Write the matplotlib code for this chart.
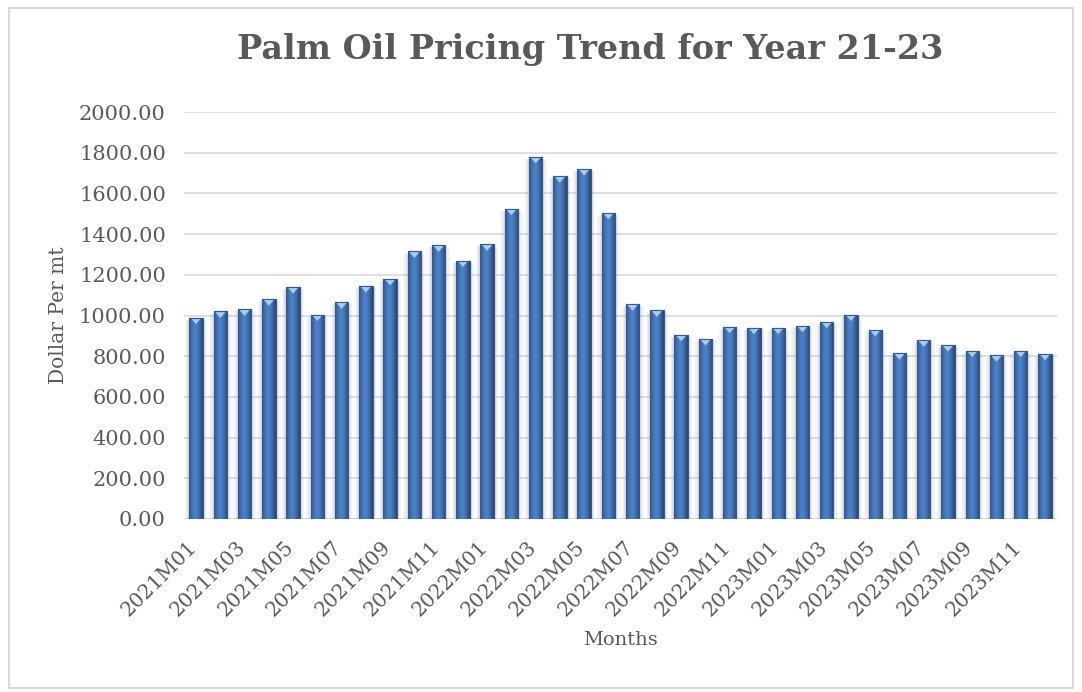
import numpy as np
import matplotlib.pyplot as plt
import matplotlib.transforms as mtrans
from matplotlib.patches import Rectangle, Polygon

months = [f"{y}M{m:02d}" for y in (2021, 2022, 2023) for m in range(1, 13)]
prices = [990, 1020, 1030, 1080, 1140, 1005, 1065, 1145, 1180, 1315, 1345, 1270,
          1350, 1525, 1780, 1685, 1720, 1505, 1055, 1025, 905, 885, 945, 940,
          940, 950, 970, 1005, 930, 815, 878, 855, 828, 805, 828, 812]
yticks = np.arange(0, 2001, 200)

plt.rcParams['font.family'] = ['DejaVu Serif']
text_col = '#595959'

fig = plt.figure(figsize=(10.82, 6.92), dpi=100)
ax = fig.add_axes([0.170, 0.250, 0.807, 0.588])

x = np.arange(len(months))
bars = ax.bar(x, prices, width=0.55, color='#4677BE', edgecolor='#345A94',
              linewidth=0.8, zorder=3)

# horizontal gradient to mimic the bevelled bars
grad = np.linspace(0, 1, 64)
shade = 1 - 0.4 * (np.abs(grad - 0.45) * 2) ** 1.6
img = np.zeros((1, 64, 3))
base = np.array([0x4c, 0x80, 0xc8]) / 255
for i in range(3):
    img[0, :, i] = np.clip(base[i] * shade, 0, 1)

for b in bars:
    bx, bw, bh = b.get_x(), b.get_width(), b.get_height()
    # soft shadow behind bar
    for k, a in zip((0.35, 0.25, 0.15), (0.05, 0.07, 0.09)):
        ax.add_patch(Rectangle((bx - k * bw, 0), bw * (1 + 2 * k), bh - 10,
                               facecolor='#808080', alpha=a, lw=0, zorder=2))
    im = ax.imshow(img, extent=(bx, bx + bw, 0, bh), aspect='auto',
                   zorder=3.5, interpolation='bilinear')
    im.set_clip_path(b)
    # light cap on top
    cap = Polygon([(bx + 0.12 * bw, bh - 3), (bx + 0.88 * bw, bh - 3),
                   (bx + 0.5 * bw, bh - 32)], closed=True,
                  facecolor='#A9CBEE', edgecolor='none', zorder=4)
    ax.add_patch(cap)
    ax.add_patch(Rectangle((bx, 0), bw, bh, fill=False, edgecolor='#345A94',
                           lw=0.8, zorder=4.5))

ax.set_xlim(-0.5, len(months) - 0.5)
ax.set_ylim(0, 2000)
ax.set_yticks(yticks)
ax.set_yticklabels([f"{v:.2f}" for v in yticks], fontsize=15, color=text_col)
ax.set_xticks(x[::2])
ax.set_xticklabels(months[::2], rotation=45, ha='right', rotation_mode='anchor',
                   fontsize=14.5, color=text_col)
ax.tick_params(axis='y', length=0, pad=13)
ax.tick_params(axis='x', length=0, pad=8)
shift = mtrans.ScaledTranslation(-9 / 100, -7 / 100, fig.dpi_scale_trans)
for lab in ax.get_xticklabels():
    lab.set_transform(lab.get_transform() + shift)
ax.grid(axis='y', color='#D9D9D9', lw=1.2, zorder=0)
ax.set_axisbelow(True)
for s in ax.spines.values():
    s.set_visible(False)
ax.axhline(0, color='#D9D9D9', lw=1.2, zorder=1)

ax.set_xlabel('Months', fontsize=14, color=text_col, labelpad=8)
ax.set_ylabel('Dollar Per mt', fontsize=14.5, color=text_col, labelpad=8)
fig.text(0.545, 0.928, 'Palm Oil Pricing Trend for Year 21-23', ha='center',
         va='center', fontsize=24, fontweight='bold', color=text_col)

fig.add_artist(Rectangle((0.008, 0.006), 0.984, 0.982, transform=fig.transFigure,
                         fill=False, edgecolor='#D9D9D9', lw=1.5))

fig.savefig('out.png', dpi=100)
